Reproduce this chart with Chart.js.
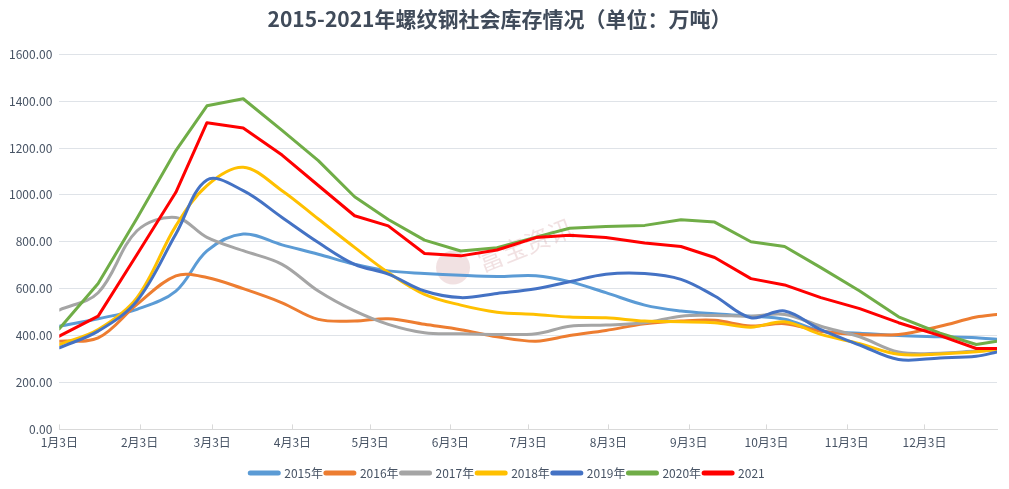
<!DOCTYPE html>
<html>
<head>
<meta charset="utf-8">
<script src="https://cdn.jsdelivr.net/npm/chart.js@4"></script>
<style>
  body { margin: 0; background: #fff; }
  #wrap { width: 1009px; height: 489px; position: relative; }
</style>
</head>
<body>
<div id="wrap"><canvas id="stockChart"></canvas></div>
<script>
// days counted from 1月3日
const days = [0, 15, 30, 45, 57, 71, 86, 100, 114, 127, 141, 155, 169, 184, 197, 211, 226, 240, 253, 267, 280, 294, 309, 324, 340, 354, 362];

const tickDays = [0, 31, 59, 90, 120, 151, 181, 212, 243, 273, 304, 334];
const tickLabels = ["1月3日", "2月3日", "3月3日", "4月3日", "5月3日", "6月3日", "7月3日", "8月3日", "9月3日", "10月3日", "11月3日", "12月3日"];

const seriesNames = ["2015年", "2016年", "2017年", "2018年", "2019年", "2020年", "2021"];
const seriesColors = ["#5b9bd5", "#ed7d31", "#a5a5a5", "#ffc000", "#4472c4", "#70ad47", "#ff0000"];

const y2015 = [440, 472, 512, 590, 761, 833, 787, 747, 704, 676, 665, 657, 652, 655, 630, 583, 530, 505, 493, 483, 470, 420, 410, 400, 395, 391, 384];
const y2016 = [376, 390, 533, 655, 648, 600, 540, 469, 462, 472, 448, 425, 395, 376, 400, 422, 450, 462, 465, 441, 451, 419, 405, 405, 440, 479, 490];
const y2017 = [509, 583, 847, 904, 819, 762, 704, 590, 505, 448, 412, 408, 405, 408, 440, 445, 455, 483, 486, 483, 490, 440, 395, 330, 325, 334, 337];
const y2018 = [362, 426, 562, 868, 1040, 1118, 1018, 897, 776, 669, 576, 530, 500, 490, 479, 476, 462, 459, 455, 436, 459, 405, 365, 320, 322, 331, 341];
const y2019 = [348, 419, 548, 833, 1064, 1018, 904, 797, 704, 662, 590, 562, 580, 600, 630, 662, 665, 640, 569, 476, 505, 425, 360, 298, 305, 312, 330];
const y2020 = [429, 622, 900, 1189, 1380, 1410, 1275, 1146, 992, 895, 807, 761, 775, 820, 858, 865, 870, 894, 884, 800, 780, 690, 590, 480, 410, 362, 376];
const y2021 = [398, 483, 746, 1011, 1308, 1285, 1170, 1040, 911, 868, 750, 740, 765, 818, 828, 818, 795, 780, 733, 643, 616, 562, 515, 455, 400, 345, 345];

const allSeries = [y2015, y2016, y2017, y2018, y2019, y2020, y2021];
const smoothed = [true, true, true, true, true, false, false];

const textColor = "#475364";
const gridColor = "#dfe3e8";

const datasets = allSeries.map((vals, i) => ({
  label: seriesNames[i],
  data: days.map((d, j) => ({ x: d, y: vals[j] })),
  borderColor: seriesColors[i],
  backgroundColor: seriesColors[i],
  borderWidth: 3,
  borderCapStyle: "round",
  borderJoinStyle: "round",
  pointRadius: 0,
  fill: false,
  tension: smoothed[i] ? 0.35 : 0,
  order: seriesNames.length - i,
}));

// small tick marks pointing up from the x axis, plus the faint watermark
const extras = {
  id: "extras",
  afterLayout(chart) {
    // legend sits a little right of centre in the original
    chart.legend.left += 8;
    chart.legend.right += 8;
  },
  beforeDatasetsDraw(chart) {
    const ctx = chart.ctx;
    const xs = chart.scales.x;
    const ys = chart.scales.y;
    const cx = xs.getPixelForValue(152);
    const cy = ys.getPixelForValue(690);
    ctx.save();
    ctx.fillStyle = "rgba(214, 170, 172, 0.35)";
    ctx.beginPath();
    ctx.arc(cx, cy, 17, 0, Math.PI * 2);
    ctx.fill();
    ctx.translate(cx + 26, cy - 4);
    ctx.rotate(-0.38);
    ctx.font = "25px 'Noto Sans CJK SC'";
    ctx.fillStyle = "rgba(214, 170, 172, 0.35)";
    ctx.textBaseline = "middle";
    ctx.fillText("富宝资讯", 0, 0);
    ctx.restore();
  },
  afterDraw(chart) {
    const ctx = chart.ctx;
    const xs = chart.scales.x;
    const bottom = chart.chartArea.bottom;
    ctx.save();
    ctx.strokeStyle = "#d9d9d9";
    ctx.lineWidth = 1;
    tickDays.forEach((d) => {
      const x = Math.round(xs.getPixelForValue(d)) + 0.5;
      ctx.beginPath();
      ctx.moveTo(x, bottom);
      ctx.lineTo(x, bottom - 5);
      ctx.stroke();
    });
    ctx.restore();
  },
};

new Chart(document.getElementById("stockChart"), {
  type: "line",
  data: { datasets },
  options: {
    responsive: true,
    maintainAspectRatio: false,
    animation: false,
    layout: { padding: { left: 2, right: 12, top: 4, bottom: 0 } },
    plugins: {
      title: {
        display: true,
        text: "2015-2021年螺纹钢社会库存情况（单位：万吨）",
        color: "#404b5a",
        font: { family: "'Noto Sans CJK SC'", size: 21, weight: "bold" },
        padding: { top: 2, bottom: 23 },
      },
      legend: {
        position: "bottom",
        title: { display: true, text: "", font: { size: 1 }, padding: { top: 7, bottom: 0 } },
        labels: {
          color: textColor,
          font: { family: "'Noto Sans CJK SC'", size: 12 },
          boxWidth: 28,
          boxHeight: 5,
          usePointStyle: true,
          pointStyle: "line",
          pointStyleWidth: 28,
          padding: 3,
          sort: (a, b) => a.datasetIndex - b.datasetIndex,
          generateLabels(chart) {
            const items = Chart.defaults.plugins.legend.labels.generateLabels(chart);
            items.forEach((it) => {
              it.lineWidth = 5;
              it.lineCap = "round";
            });
            return items;
          },
        },
      },
      tooltip: { enabled: false },
    },
    scales: {
      x: {
        type: "linear",
        min: 0,
        max: 362,
        afterBuildTicks(axis) {
          axis.ticks = tickDays.map((v) => ({ value: v }));
        },
        grid: { display: false, drawTicks: false },
        border: { display: true, color: "#d9d9d9" },
        ticks: {
          autoSkip: false,
          maxRotation: 0,
          padding: 6,
          color: textColor,
          font: { family: "'Noto Sans CJK SC'", size: 12 },
          callback: (value) => {
            const i = tickDays.indexOf(value);
            return i >= 0 ? tickLabels[i] : "";
          },
        },
      },
      y: {
        min: 0,
        max: 1600,
        grid: { color: gridColor, drawTicks: false },
        border: { display: false },
        ticks: {
          stepSize: 200,
          padding: 7,
          color: textColor,
          font: { family: "'Noto Sans CJK SC'", size: 12 },
          callback: (value) => value.toFixed(2),
        },
      },
    },
  },
  plugins: [extras],
});
</script>
</body>
</html>
